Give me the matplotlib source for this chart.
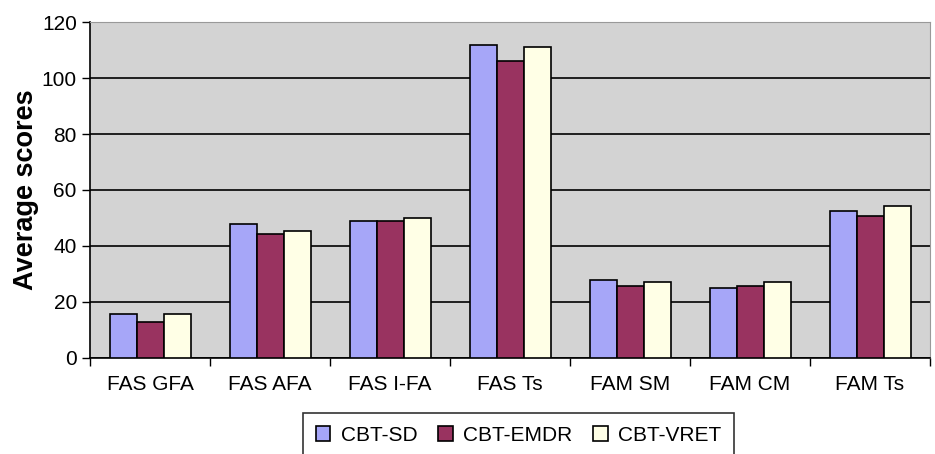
import matplotlib
matplotlib.use("Agg")
import matplotlib.pyplot as plt
import numpy as np

plt.rcParams['font.family'] = ['Liberation Sans', 'DejaVu Sans']

categories = ["FAS GFA", "FAS AFA", "FAS I-FA", "FAS Ts", "FAM SM", "FAM CM", "FAM Ts"]
cbt_sd = [15.8, 47.9, 48.9, 111.8, 27.9, 24.9, 52.5]
cbt_emdr = [13.0, 44.2, 48.9, 106.1, 25.6, 25.6, 50.8]
cbt_vret = [15.7, 45.5, 49.9, 111.0, 27.3, 27.3, 54.3]

series = [("CBT-SD", cbt_sd, "#a6a6f8"),
          ("CBT-EMDR", cbt_emdr, "#993360"),
          ("CBT-VRET", cbt_vret, "#ffffe6")]

fig = plt.figure(figsize=(9.35, 4.54), dpi=100)
ax = fig.add_axes([0.0963, 0.2115, 0.8984, 0.74])
ax.set_facecolor("#d3d3d3")

x = np.arange(len(categories))
w = 0.225
for i, (name, vals, col) in enumerate(series):
    ax.bar(x + (i - 1) * w, vals, w, color=col, edgecolor="black", linewidth=1.2,
           label=name, zorder=3)

ax.set_xlim(-0.5, len(categories) - 0.5)
ax.set_ylim(0, 120)
ax.set_yticks(range(0, 121, 20))
ax.yaxis.grid(True, color="black", linewidth=1.2, zorder=1)
ax.set_axisbelow(True)

ax.set_xticks(x)
ax.set_xticklabels(categories, fontsize=15)
ax.tick_params(axis="x", length=0, pad=12)
ax.set_xticks(np.arange(-0.5, len(categories), 1), minor=True)
ax.tick_params(axis="x", which="minor", length=6, width=1, direction="out")
ax.tick_params(axis="y", labelsize=15, length=6, width=1, direction="out")

for s in ["top", "right"]:
    ax.spines[s].set_color("#999999")
ax.spines["left"].set_linewidth(1.2)
ax.spines["bottom"].set_linewidth(1.2)

ax.set_ylabel("Average scores", fontsize=19.5, fontweight="bold", labelpad=2)

leg = fig.legend(loc="lower center", bbox_to_anchor=(0.5545, -0.03), ncol=3,
                 fontsize=15, frameon=True, fancybox=False, edgecolor="black",
                 handlelength=0.7, handleheight=0.7, handletextpad=0.5,
                 columnspacing=1.0, borderpad=0.6)
leg.get_frame().set_linewidth(1.2)

fig.savefig("out.png", dpi=100)
